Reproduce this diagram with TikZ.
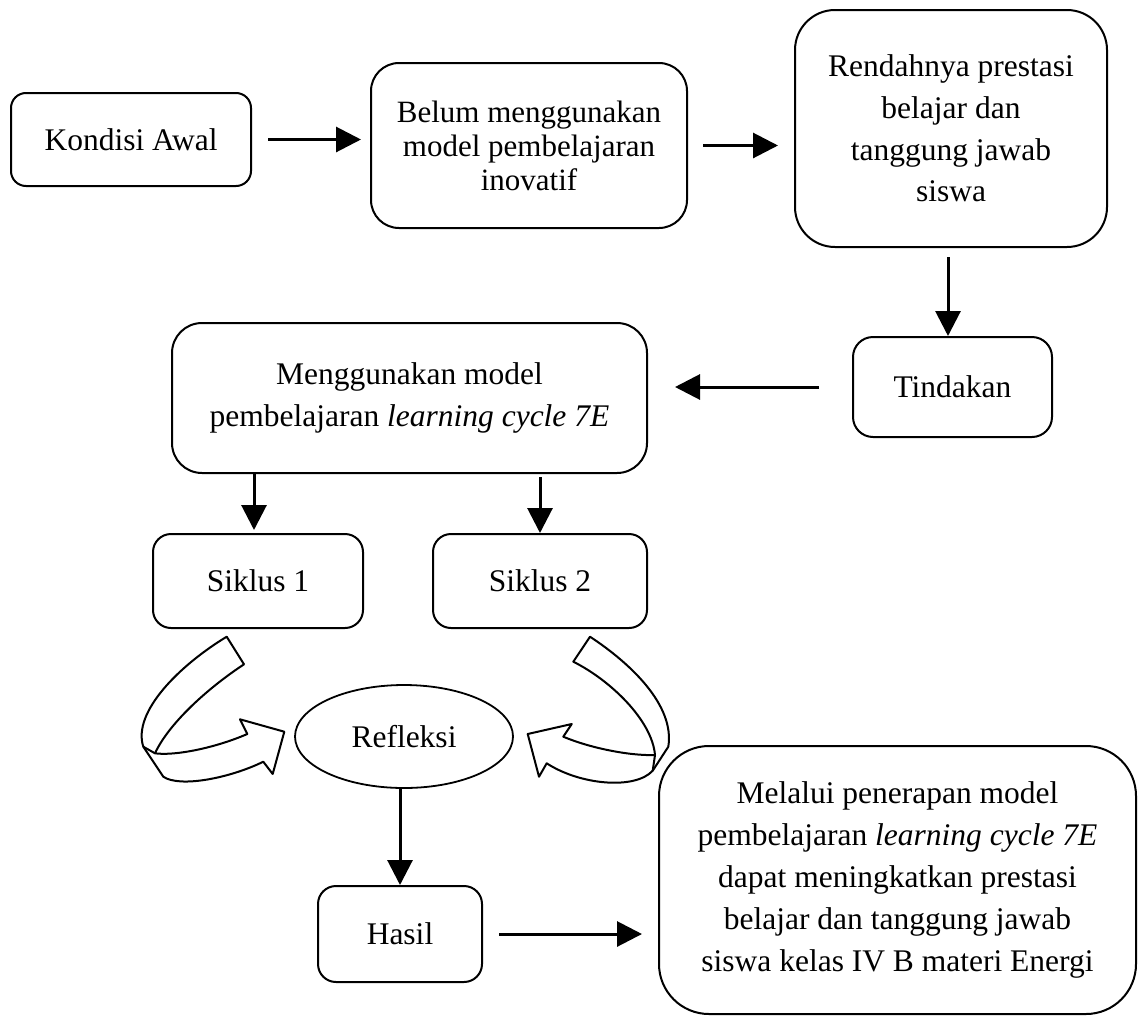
\documentclass[tikz,border=0pt]{standalone}
\usepackage{fontspec}
\setmainfont{Liberation Serif}
\usetikzlibrary{arrows.meta,shapes.geometric}
\begin{document}
\begin{tikzpicture}[x=1pt,y=-1pt,
  box/.style={draw, line width=2pt, align=center, inner sep=0pt,
    font=\fontsize{31.5}{41.8}\selectfont},
  arr/.style={line width=3pt, -{Triangle[length=25pt,width=25pt]}},
  ribbon/.style={draw, line width=2pt, fill=white, line join=round}]
\useasboundingbox (0,0) rectangle (1139,1017);

% boxes
\node[box, rounded corners=15pt, minimum width=240pt, minimum height=93pt] (kond) at (131,139.5) {Kondisi Awal};
\node[box, font=\fontsize{31}{34}\selectfont, rounded corners=28pt, minimum width=316pt, minimum height=165pt] (belum) at (529,145.5) {Belum menggunakan\\model pembelajaran\\inovatif};
\node[box, rounded corners=40pt, minimum width=312pt, minimum height=237pt] (rend) at (951,128.5) {Rendahnya prestasi\\belajar dan\\tanggung jawab\\siswa};
\node[box, rounded corners=20pt, minimum width=199pt, minimum height=100pt] (tind) at (952.5,387) {Tindakan};
\node[box, rounded corners=30pt, minimum width=475pt, minimum height=150pt] (meng) at (409.5,398) {Menggunakan model\\pembelajaran \textit{learning cycle 7E}};
\node[box, rounded corners=18pt, minimum width=210pt, minimum height=94pt] (s1) at (258,581) {Siklus 1};
\node[box, rounded corners=18pt, minimum width=214pt, minimum height=94pt] (s2) at (540,581) {Siklus 2};
\node[box, ellipse, line width=1.8pt, minimum width=218pt, minimum height=103pt] (refl) at (404,736.5) {Refleksi};
\node[box, rounded corners=18pt, minimum width=164pt, minimum height=96pt] (hasil) at (400,934) {Hasil};
\node[box, rounded corners=50pt, minimum width=477pt, minimum height=268pt] (mel) at (897.5,880) {Melalui penerapan model\\pembelajaran \textit{learning cycle 7E}\\dapat meningkatkan prestasi\\belajar dan tanggung jawab\\siswa kelas IV B materi Energi};

% straight arrows
\draw[arr] ([xshift=16pt]kond.east) -- ([xshift=-9pt]belum.west |- kond.east);
\draw[arr] ([xshift=15pt]belum.east) -- ([xshift=-16pt]rend.west |- belum.east);
\draw[arr] ([xshift=-3pt,yshift=-9pt]rend.south) -- ([xshift=-4.5pt]tind.north);
\draw[arr] ([xshift=-33pt]tind.west) -- ([xshift=27pt]meng.east |- tind.west);
\draw[arr] ([xshift=-4pt]meng.south -| s1.north) -- ([xshift=-4pt,yshift=3pt]s1.north);
\draw[arr] ([yshift=-3pt]meng.south -| s2.north) -- (s2.north);
\draw[arr] (refl.south -| hasil.north) -- (hasil.north);
\draw[arr] ([xshift=16pt]hasil.east) -- ([xshift=-16pt]mel.west |- hasil.east);

% curved arrow left (Siklus 1 -> Refleksi)
\draw[ribbon] (226.7,636.7) .. controls (180,665) and (132,712) .. (143.3,746.7)
  -- (163.3,776.7) .. controls (180,788) and (230,778) .. (263.3,761.7)
  -- (272.7,774) -- (284.3,731.7) -- (240,719.3) -- (247.3,734)
  .. controls (215,748) and (175,756) .. (155,753.3)
  .. controls (168,725) and (205,690) .. (244,664.3) -- cycle;
\draw[line width=2pt] (143.3,746.7) -- (155,753.3);

% curved arrow right (Siklus 2 -> Refleksi)
\draw[ribbon] (590,636.7) .. controls (630,663) and (675,705) .. (668.3,746.7)
  -- (652.7,770.7) .. controls (635,790) and (580,785) .. (546.7,763.3)
  -- (539,776.7) -- (527.7,734) -- (571.7,724) -- (563.3,736.7)
  .. controls (590,748) and (630,756) .. (655,755)
  .. controls (652,720) and (610,680) .. (573.3,661.7) -- cycle;
\draw[line width=2pt] (655,755) -- (652.7,770.7);
\end{tikzpicture}
\end{document}
